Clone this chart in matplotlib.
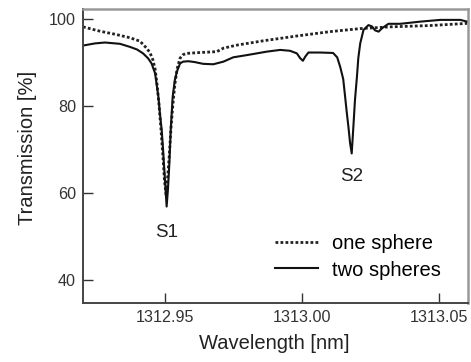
import numpy as np
import matplotlib
matplotlib.use("Agg")
from matplotlib import pyplot as plt

plt.rcParams['font.family'] = ['Liberation Sans', 'DejaVu Sans']

# transmission spectra, wavelength in nm and transmission in %
wl_one = [1312.9201, 1312.9263, 1312.9318, 1312.9372, 1312.9409, 1312.9433, 1312.9445,
          1312.9456, 1312.9464, 1312.9471, 1312.9478, 1312.9485, 1312.9493, 1312.9498,
          1312.9504, 1312.9509, 1312.9515, 1312.9522, 1312.9529, 1312.9536, 1312.9544,
          1312.9555, 1312.9566, 1312.9579, 1312.9628, 1312.9689, 1312.9713, 1312.9762,
          1312.9859, 1312.9981, 1313.0102, 1313.0212, 1313.0321, 1313.0467, 1313.0602]
tr_one = [98.2, 97.2, 96.5, 95.7, 94.9, 93.3, 92.3,
          90.6, 88.5, 85.0, 80.5, 75.0, 68.0, 63.0,
          59.5, 63.0, 68.0, 75.0, 80.5, 85.0, 88.5,
          91.0, 91.8, 92.1, 92.3, 92.5, 93.3, 94.0,
          95.0, 96.1, 97.1, 97.8, 98.2, 98.5, 99.0]

wl_two = [1312.9201, 1312.9245, 1312.9281, 1312.9336, 1312.9372, 1312.9398, 1312.9420,
          1312.9438, 1312.9451, 1312.9464, 1312.9476, 1312.9482, 1312.9488, 1312.9493,
          1312.9496, 1312.9502, 1312.9506, 1312.9511, 1312.9516, 1312.9521, 1312.9528,
          1312.9536, 1312.9544, 1312.9555, 1312.9566, 1312.9585, 1312.9609, 1312.9639,
          1312.9676, 1312.9713, 1312.9749, 1312.9798, 1312.9871, 1312.9920, 1312.9956,
          1312.9981, 1312.9993, 1313.0003, 1313.0011, 1313.0023, 1313.0066, 1313.0113,
          1313.0128, 1313.0139, 1313.0150, 1313.0157, 1313.0163, 1313.0169, 1313.0175,
          1313.0181, 1313.0187, 1313.0193, 1313.0200, 1313.0205, 1313.0212, 1313.0224,
          1313.0242, 1313.0255, 1313.0266, 1313.0279, 1313.0292, 1313.0315, 1313.0358,
          1313.0431, 1313.0504, 1313.0577, 1313.0602]
tr_two = [93.9, 94.4, 94.6, 94.3, 93.6, 93.0, 92.1,
          91.0, 89.8, 87.5, 82.1, 78.0, 74.5, 70.0,
          66.9, 61.0, 56.9, 61.0, 66.9, 74.5, 82.1,
          86.0, 88.0, 89.8, 90.2, 90.3, 90.1, 89.7,
          89.6, 90.2, 91.2, 91.7, 92.5, 92.9, 92.7,
          92.1, 91.0, 90.4, 91.3, 92.3, 92.3, 92.2,
          91.2, 89.0, 86.2, 82.1, 78.5, 75.2, 71.5,
          69.1, 75.2, 81.5, 86.7, 91.0, 94.4, 97.5,
          98.6, 98.3, 97.4, 97.1, 97.9, 98.9, 98.9,
          99.4, 99.8, 99.8, 99.4]

# resonance labels
peak_names = ["S1", "S2"]
peak_wl = [1312.9505, 1313.0181]
peak_y = [50.9, 63.9]

x_ticks = [1312.95, 1313.00, 1313.05]
y_ticks = [40, 60, 80, 100]

fig = plt.figure(figsize=(4.71, 3.62), dpi=100)
ax = fig.add_axes([0.1762, 0.1638, 0.8174, 0.8113])

ax.plot(wl_one, tr_one, color='#222222', lw=2.0, linestyle=(0, (1, 0.8)), label='one sphere')
ax.plot(wl_two, tr_two, color='#111111', lw=1.5, label='two spheres')

for name, x, y in zip(peak_names, peak_wl, peak_y):
    ax.text(x, y, name, ha='center', va='center', fontsize=13.5, color='#222222')

ax.set_xlim(1312.9201, 1313.0605)
ax.set_ylim(34.8, 102.3)
ax.set_xticks(x_ticks)
ax.set_xticklabels(['%.2f' % v for v in x_ticks])
ax.set_yticks(y_ticks)
ax.tick_params(direction='in', length=7, width=1, colors='#333333', labelsize=11.6, pad=5)

for side in ['left', 'bottom']:
    ax.spines[side].set_color('#444444')
    ax.spines[side].set_linewidth(1.4)
for side in ['top', 'right']:
    ax.spines[side].set_color('#999999')
    ax.spines[side].set_linewidth(1.8)

ax.set_xlabel('Wavelength [nm]', fontsize=14.5, color='#222222')
ax.set_ylabel('Transmission [%]', fontsize=14.5, color='#222222')
ax.xaxis.set_label_coords(0.496, -0.105)
ax.yaxis.set_label_coords(-0.12, 0.527)

ax.legend(loc='center left', bbox_to_anchor=(0.4987, 0.1556), frameon=False,
          fontsize=14.5, handlelength=2.15, handletextpad=0.7, labelspacing=0.35,
          borderpad=0, borderaxespad=0)

fig.savefig('out.png', dpi=100)
